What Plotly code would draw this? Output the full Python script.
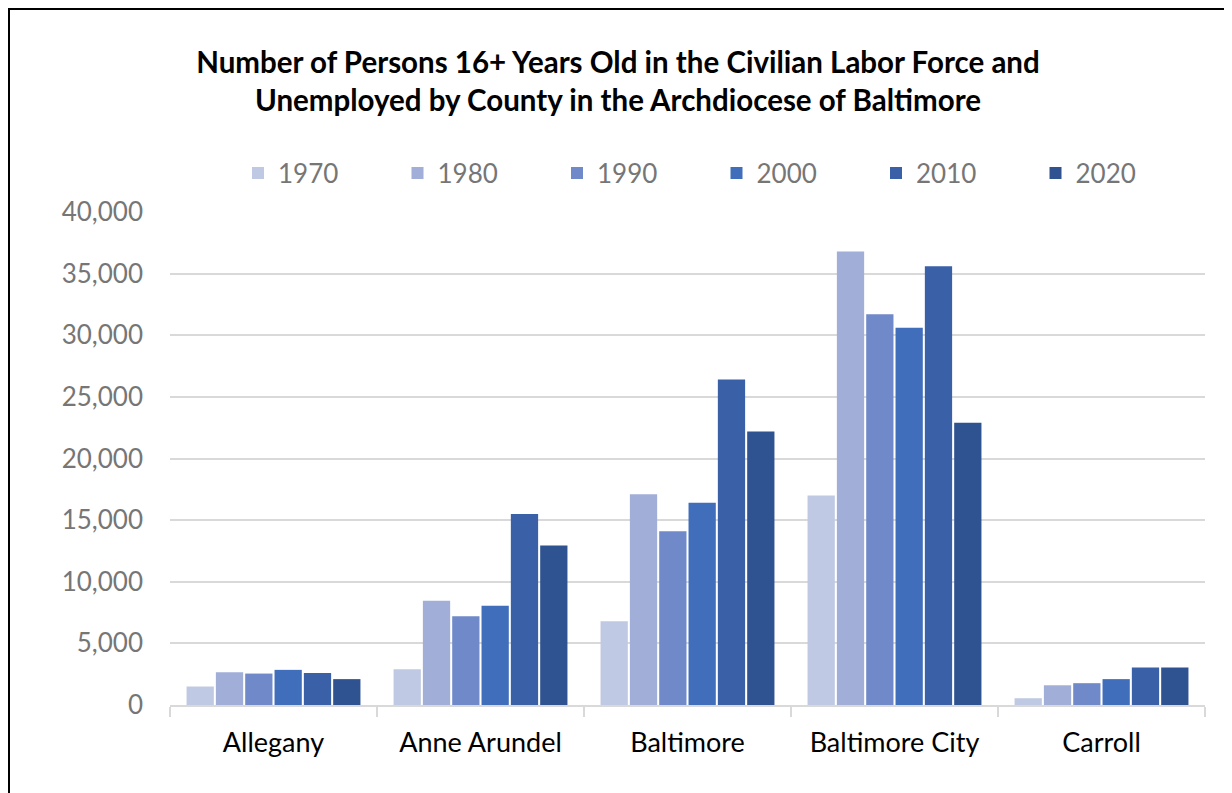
import plotly.graph_objects as go

# Counties in the Archdiocese of Baltimore
counties = ["Allegany", "Anne Arundel", "Baltimore", "Baltimore City", "Carroll"]

# Unemployed persons 16+ in the civilian labor force, by census year
years = ["1970", "1980", "1990", "2000", "2010", "2020"]
v1970 = [1500, 2900, 6800, 17000, 550]
v1980 = [2650, 8450, 17100, 36800, 1600]
v1990 = [2550, 7200, 14100, 31700, 1770]
v2000 = [2850, 8050, 16400, 30600, 2100]
v2010 = [2600, 15500, 26400, 35600, 3050]
v2020 = [2100, 12950, 22200, 22900, 3050]
series = [v1970, v1980, v1990, v2000, v2010, v2020]

colors = ["#BFC9E3", "#A0AED8", "#6F89C9", "#406EBB", "#3A60A8", "#2F5290"]

# the page body adds an 8px offset, so layout is given in page pixels minus OFF
OFF = 8
W, H = 1232, 793
ML, MR, MT, MB = 170 - OFF, 27 + OFF, 212 - OFF, 88 + OFF
PW, PH = W - ML - MR, H - MT - MB

FONT = "Lato"

fig = go.Figure()
for year, vals, col in zip(years, series, colors):
    fig.add_trace(go.Bar(
        x=counties, y=vals, name=year,
        marker=dict(color=col, line=dict(width=0)),
    ))


def px_x(px):
    return (px - OFF - ML) / PW


def px_y(py):
    return (H - MB - (py - OFF)) / PH


fig.update_layout(
    width=W, height=H,
    margin=dict(l=ML, r=MR, t=MT, b=MB, autoexpand=False),
    paper_bgcolor="white", plot_bgcolor="white",
    barmode="group", bargap=0.15, bargroupgap=0.07,
    font=dict(family=FONT),
    title=dict(
        text="Number of Persons 16+ Years Old in the Civilian Labor Force and<br>"
             "Unemployed by County in the Archdiocese of Baltimore",
        x=(618 - OFF) / W, xref="container", xanchor="center",
        y=1 - (73 - OFF) / H, yref="container", yanchor="middle",
        font=dict(family=FONT, size=29.5, color="black", weight="bold"),
    ),
    legend=dict(
        orientation="h",
        x=px_x(238), xanchor="left",
        y=px_y(173), yanchor="middle",
        font=dict(family=FONT, size=26, color="#767676"),
        entrywidth=114.5, entrywidthmode="pixels",
        itemclick=False, itemdoubleclick=False,
        traceorder="normal",
    ),
    showlegend=True,
    xaxis=dict(
        automargin=False,
        showline=True, linecolor="#D9D9D9", linewidth=2,
        ticks="outside", tickson="boundaries", ticklen=10,
        tickcolor="#D9D9D9", tickwidth=2,
        tickfont=dict(family=FONT, size=27, color="black"),
        ticklabelstandoff=13,
        showgrid=False,
    ),
    yaxis=dict(
        automargin=False,
        range=[0, 40000], dtick=5000,
        tickformat=",d",
        showgrid=True, gridcolor="#D9D9D9", gridwidth=2,
        zeroline=False, showline=False,
        tickfont=dict(family=FONT, size=26, color="#767676"),
        ticklabelstandoff=26,
    ),
)

# outer chart frame (left and top edges fall at the figure border)
fig.add_shape(
    type="rect", xref="paper", yref="paper",
    x0=px_x(9), x1=px_x(1250), y0=px_y(810), y1=px_y(9),
    line=dict(color="black", width=2), layer="below",
)

fig.write_html("out.html")
